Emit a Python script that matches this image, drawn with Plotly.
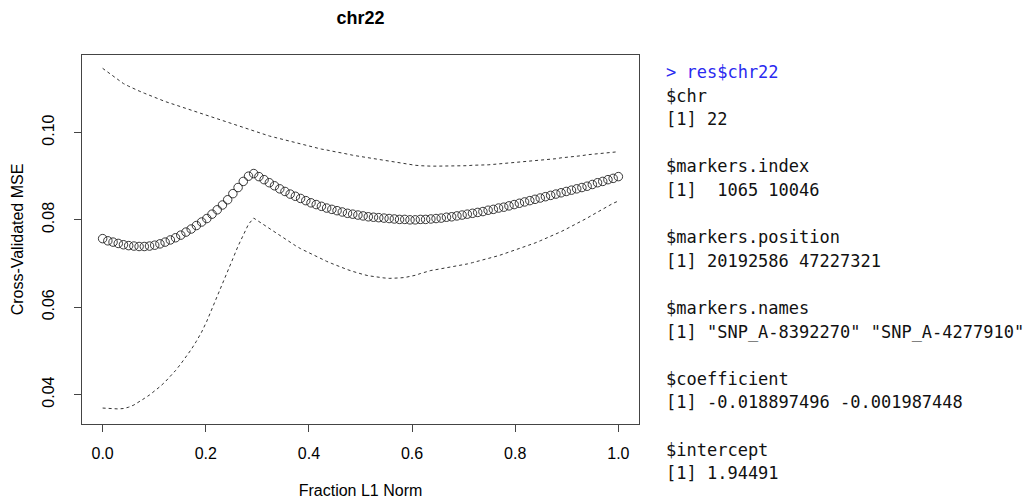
import plotly.graph_objects as go

# ---------------- data ----------------
fraction = [i / 99 for i in range(100)]

cv_mse = [
    0.0757, 0.0752, 0.0749, 0.0746, 0.0743, 0.0741, 0.0740, 0.0739, 0.0739, 0.0740,
    0.0742, 0.0745, 0.0749, 0.0754, 0.0759, 0.0765, 0.0772, 0.0779, 0.0787, 0.0795,
    0.0803, 0.0813, 0.0823, 0.0834, 0.0846, 0.0860, 0.0874, 0.0888, 0.0900, 0.0906,
    0.0899, 0.0892, 0.0885, 0.0878, 0.0871, 0.0865, 0.0859, 0.0854, 0.0849, 0.0844,
    0.0839, 0.0835, 0.0831, 0.0827, 0.0824, 0.0821, 0.0818, 0.0815, 0.0813, 0.0811,
    0.0809, 0.0807, 0.0806, 0.0805, 0.0804, 0.0803, 0.0802, 0.0801, 0.0801, 0.0800,
    0.0800, 0.0801, 0.0801, 0.0802, 0.0803, 0.0804, 0.0806, 0.0807, 0.0809, 0.0811,
    0.0813, 0.0815, 0.0817, 0.0819, 0.0822, 0.0824, 0.0827, 0.0829, 0.0832, 0.0835,
    0.0838, 0.0841, 0.0844, 0.0847, 0.0850, 0.0853, 0.0856, 0.0859, 0.0862, 0.0865,
    0.0868, 0.0871, 0.0874, 0.0877, 0.0881, 0.0885, 0.0888, 0.0892, 0.0895, 0.0899,
]

cv_upper = [
    0.1147, 0.1138, 0.1129, 0.1120, 0.1112, 0.1106, 0.1100, 0.1095, 0.1090, 0.1085,
    0.1080, 0.1075, 0.1071, 0.1067, 0.1063, 0.1059, 0.1055, 0.1051, 0.1047, 0.1043,
    0.1039, 0.1035, 0.1031, 0.1027, 0.1023, 0.1019, 0.1015, 0.1011, 0.1007, 0.1003,
    0.0999, 0.0996, 0.0992, 0.0989, 0.0986, 0.0983, 0.0979, 0.0976, 0.0973, 0.0970,
    0.0967, 0.0965, 0.0962, 0.0960, 0.0957, 0.0955, 0.0953, 0.0950, 0.0948, 0.0946,
    0.0944, 0.0942, 0.0940, 0.0938, 0.0936, 0.0934, 0.0932, 0.0930, 0.0928, 0.0926,
    0.0925, 0.0924, 0.0923, 0.0923, 0.0923, 0.0923, 0.0923, 0.0923, 0.0924, 0.0924,
    0.0924, 0.0925, 0.0925, 0.0926, 0.0926, 0.0927, 0.0928, 0.0929, 0.0930, 0.0931,
    0.0932, 0.0933, 0.0934, 0.0935, 0.0936, 0.0937, 0.0939, 0.0940, 0.0942, 0.0943,
    0.0945, 0.0946, 0.0947, 0.0949, 0.0950, 0.0952, 0.0953, 0.0954, 0.0955, 0.0956,
]

cv_lower = [
    0.0369, 0.0368, 0.0367, 0.0367, 0.0368, 0.0371, 0.0376, 0.0383, 0.0391, 0.0399,
    0.0408, 0.0418, 0.0429, 0.0441, 0.0455, 0.0470, 0.0486, 0.0503, 0.0522, 0.0543,
    0.0568, 0.0596, 0.0623, 0.0651, 0.0680, 0.0711, 0.0740, 0.0767, 0.0790, 0.0804,
    0.0796, 0.0788, 0.0780, 0.0772, 0.0764, 0.0756, 0.0748, 0.0741, 0.0734, 0.0728,
    0.0722, 0.0716, 0.0710, 0.0705, 0.0700, 0.0695, 0.0690, 0.0686, 0.0682, 0.0678,
    0.0675, 0.0672, 0.0670, 0.0668, 0.0667, 0.0666, 0.0666, 0.0667, 0.0668, 0.0670,
    0.0673, 0.0677, 0.0681, 0.0684, 0.0686, 0.0688, 0.0690, 0.0692, 0.0694, 0.0697,
    0.0699, 0.0702, 0.0705, 0.0708, 0.0711, 0.0715, 0.0718, 0.0722, 0.0726, 0.0730,
    0.0734, 0.0738, 0.0742, 0.0747, 0.0752, 0.0757, 0.0762, 0.0767, 0.0773, 0.0779,
    0.0785, 0.0791, 0.0797, 0.0804, 0.0811, 0.0818, 0.0825, 0.0832, 0.0838, 0.0843,
]

x_ticks = [0.0, 0.2, 0.4, 0.6, 0.8, 1.0]
x_tick_labels = ["0.0", "0.2", "0.4", "0.6", "0.8", "1.0"]
y_ticks = [0.04, 0.06, 0.08, 0.10]
y_tick_labels = ["0.04", "0.06", "0.08", "0.10"]

console_prompt = "> res$chr22"
console_lines = [
    "$chr",
    "[1] 22",
    "",
    "$markers.index",
    "[1]  1065 10046",
    "",
    "$markers.position",
    "[1] 20192586 47227321",
    "",
    "$markers.names",
    '[1] "SNP_A-8392270" "SNP_A-4277910"',
    "",
    "$coefficient",
    "[1] -0.018897496 -0.001987448",
    "",
    "$intercept",
    "[1] 1.94491",
]

# ---------------- figure ----------------
W, H = 1026, 499
L, R, T, B = 82, 387, 55, 75
plot_w = W - L - R
plot_h = H - T - B

fig = go.Figure()

fig.add_trace(go.Scatter(
    x=fraction, y=cv_upper, mode="lines",
    line=dict(color="#333333", width=1, dash="3px,3px"),
    showlegend=False, hoverinfo="skip",
))
fig.add_trace(go.Scatter(
    x=fraction, y=cv_lower, mode="lines",
    line=dict(color="#333333", width=1, dash="3px,3px"),
    showlegend=False, hoverinfo="skip",
))
fig.add_trace(go.Scatter(
    x=fraction, y=cv_mse, mode="markers",
    marker=dict(symbol="circle-open", size=8.5, color="#222222",
                line=dict(width=0.9, color="#222222")),
    showlegend=False,
))

font_sans = "Liberation Sans, Arial, sans-serif"

fig.update_layout(
    width=W, height=H,
    margin=dict(l=L, r=R, t=T, b=B),
    paper_bgcolor="white", plot_bgcolor="white",
    title=dict(text="<b>chr22</b>", x=(L + plot_w / 2) / W, xanchor="center",
               y=1 - 18 / H, yanchor="middle",
               font=dict(family=font_sans, size=18, color="black")),
    font=dict(family=font_sans, size=16, color="black"),
    xaxis=dict(
        range=[-0.04, 1.04], tickvals=x_ticks, ticktext=x_tick_labels,
        showgrid=False, zeroline=False,
        showline=True, linecolor="#444444", linewidth=1, mirror=True,
        ticks="outside", ticklen=7, tickcolor="#444444", tickwidth=1,
        tickfont=dict(family=font_sans, size=16),
        ticklabelstandoff=8,
        title=dict(text="Fraction L1 Norm", standoff=23,
                   font=dict(family=font_sans, size=16)),
        automargin=False,
    ),
    yaxis=dict(
        range=[0.03325, 0.11775], tickvals=y_ticks, ticktext=y_tick_labels,
        showgrid=False, zeroline=False,
        showline=True, linecolor="#444444", linewidth=1, mirror=True,
        ticks="outside", ticklen=7, tickcolor="#444444", tickwidth=1,
        tickangle=-90,
        tickfont=dict(family=font_sans, size=16),
        ticklabelstandoff=14,
        title=dict(text="Cross-Validated MSE", standoff=11,
                   font=dict(family=font_sans, size=16)),
        automargin=False,
    ),
)

# console text panel
mono = "DejaVu Sans Mono, monospace"
text_x = (664 - L) / plot_w
first_y = 72
line_step = 23.6


def paper_y(py):
    return (H - B - py) / plot_h


fig.add_annotation(
    x=text_x, y=paper_y(first_y), xref="paper", yref="paper",
    text=console_prompt, showarrow=False, xanchor="left", yanchor="middle",
    font=dict(family=mono, size=17, color="#2a2af0"),
)
for k, line in enumerate(console_lines, start=1):
    if not line:
        continue
    fig.add_annotation(
        x=text_x, y=paper_y(first_y + k * line_step), xref="paper", yref="paper",
        text=line.replace(" ", "&nbsp;"), showarrow=False,
        xanchor="left", yanchor="middle",
        font=dict(family=mono, size=17, color="#111111"),
    )

fig.write_html(
    "out.html",
    config={"displayModeBar": False},
    post_script="document.body.style.margin='0';document.body.style.padding='0';"
                "document.body.style.overflow='hidden';",
)
